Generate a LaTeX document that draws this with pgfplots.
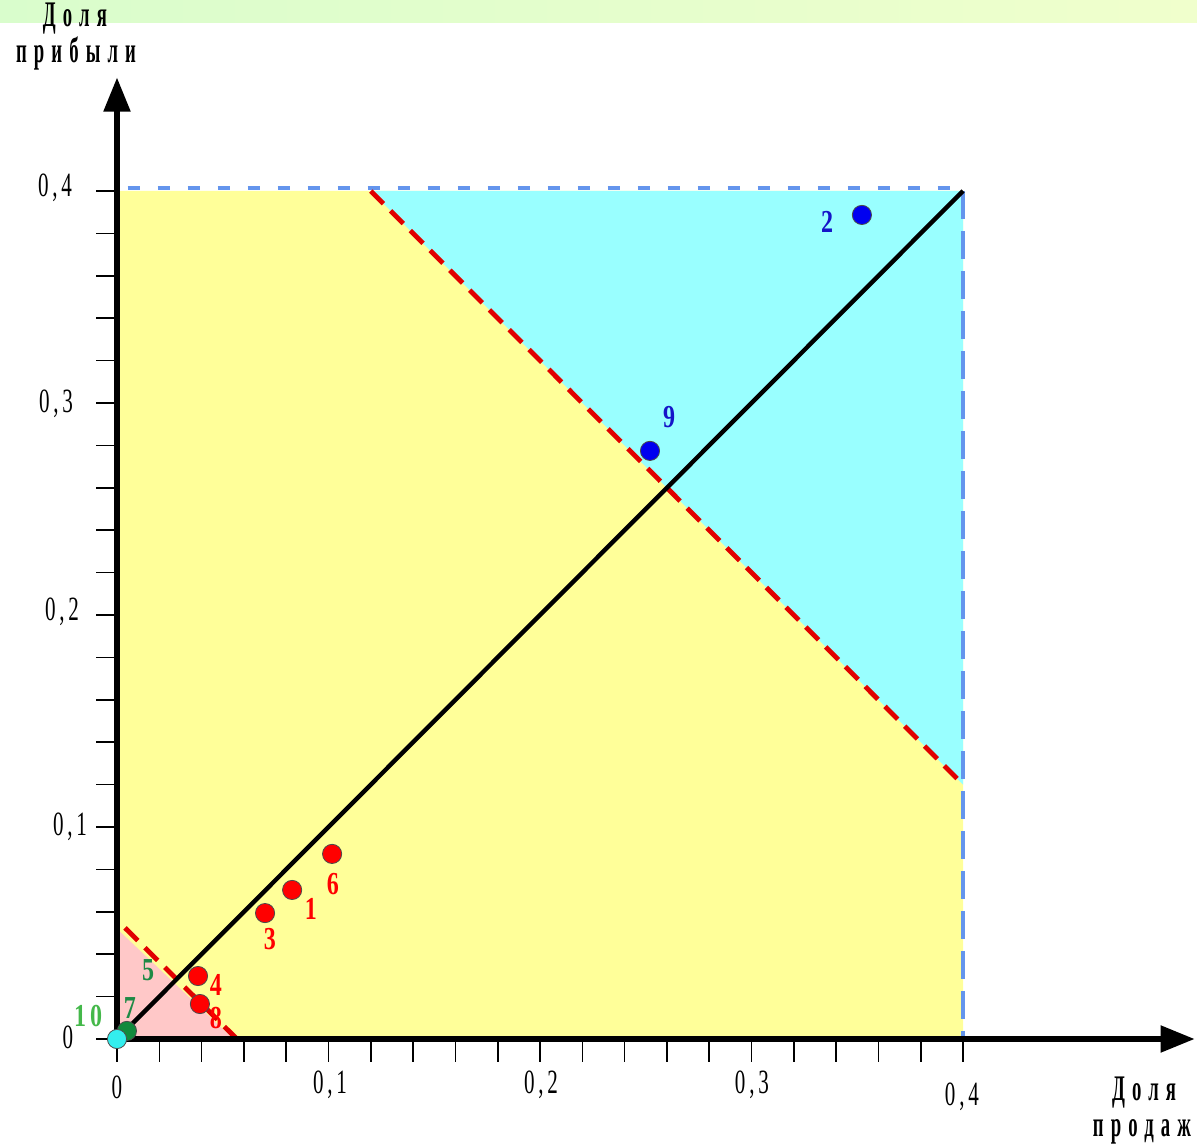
\documentclass[border=0pt]{standalone}
\usepackage{fontspec}
\setmainfont{Liberation Serif}
\newfontfamily\tickfont[LetterSpace=18]{Liberation Serif}
\newfontfamily\titlefont[LetterSpace=38]{Liberation Serif Bold}
\usepackage{graphicx}
\usepackage{pgfplots}
\pgfplotsset{compat=1.18}
\usetikzlibrary{arrows.meta}
\definecolor{zyellow}{HTML}{FFFF99}
\definecolor{zcyan}{HTML}{99FFFF}
\definecolor{zpink}{HTML}{FFC8C8}
\definecolor{zblue}{HTML}{6495ED}
\definecolor{zred}{HTML}{E00000}
\definecolor{pred}{HTML}{FF0000}
\definecolor{pblue}{HTML}{0000F0}
\definecolor{pgreen}{HTML}{118A3C}
\definecolor{pcyan}{HTML}{33EEEE}
\definecolor{lblue}{HTML}{1515C8}
\definecolor{lgreen}{HTML}{1E8A46}
\definecolor{lgreen2}{HTML}{44B84A}
\definecolor{bandl}{HTML}{D9FDCC}
\definecolor{bandr}{HTML}{F0FFCC}
\newcommand{\tl}[1]{{\tickfont\fontsize{17}{17}\selectfont\scalebox{0.62}[1]{#1}}}
\newcommand{\ttl}[1]{{\titlefont\fontsize{18}{18}\selectfont\scalebox{0.52}[1]{#1}}}
\newcommand{\pl}[1]{{\bfseries\fontsize{16}{16}\selectfont\scalebox{0.75}[1]{#1}}}
\begin{document}
\begin{tikzpicture}
\begin{axis}[
  width=598.5pt, height=572.5pt, scale only axis,
  xmin=-0.05532, xmax=0.51064, ymin=-0.05, ymax=0.49009,
  hide axis, clip=false,
]
\coordinate (bl) at (rel axis cs:0,0);
\coordinate (tr) at (rel axis cs:1,1);
% top band
\fill[left color=bandl, right color=bandr] (axis cs:-0.05532,0.49009) rectangle (axis cs:0.51064,0.4797);
% zones
\addplot[fill=zyellow, draw=none] coordinates {(0,0) (0.4,0) (0.4,0.4) (0,0.4)} \closedcycle;
\addplot[fill=zcyan, draw=none] coordinates {(0.12,0.4) (0.4,0.4) (0.4,0.12) (0.12,0.4)};
\addplot[fill=zpink, draw=none] coordinates {(0,0) (0.055,0) (0,0.052) (0,0)};
% borders
\addplot[zblue, line width=2.2pt, dash pattern=on 6pt off 9pt] coordinates {(0.005,0.4014) (0.4,0.4014)};
\addplot[zblue, line width=2.2pt, dash pattern=on 14pt off 6pt] coordinates {(0.4,0.4) (0.4,0)};
\addplot[zred, line width=2.4pt, dash pattern=on 9pt off 5pt] coordinates {(0.12,0.4) (0.4,0.12)};
\addplot[zred, line width=2.4pt, dash pattern=on 9pt off 5pt] coordinates {(0.0038,0.0524) (0.0567,0)};
\addplot[black, line width=2.2pt] coordinates {(0,0) (0.4,0.4)};
% axes
\draw[line width=2.6pt, -{Triangle[length=17pt,width=13pt]}] (axis cs:0,0) -- (axis cs:0.5095,0);
\draw[line width=2.6pt, -{Triangle[length=17pt,width=13pt]}] (axis cs:0,-0.001) -- (axis cs:0,0.4535);
\pgfplotsinvokeforeach{0,0.02,0.04,0.06,0.08,0.1,0.12,0.14,0.16,0.18,0.2,0.22,0.24,0.26,0.28,0.3,0.32,0.34,0.36,0.38,0.4}{
  \draw[line width=0.8pt] (axis cs:#1,0) -- (axis cs:#1,-0.0108);
  \draw[line width=0.8pt] (axis cs:0,#1) -- (axis cs:-0.0099,#1);
}
% points
\addplot[only marks, mark=*, mark size=4.8pt, mark options={fill=pgreen, draw=black!70, line width=0.4pt}] coordinates {(0.0047,0.0038)};
\addplot[only marks, mark=*, mark size=4.8pt, mark options={fill=pcyan, draw=black!70, line width=0.4pt}] coordinates {(0,0)};
\addplot[only marks, mark=*, mark size=4.8pt, mark options={fill=pred, draw=black!70, line width=0.4pt}] coordinates {(0.1017,0.0873) (0.0828,0.0703) (0.0700,0.0594) (0.0383,0.0297) (0.0392,0.0165)};
\addplot[only marks, mark=*, mark size=4.8pt, mark options={fill=pblue, draw=black!70, line width=0.4pt}] coordinates {(0.3522,0.3887) (0.2520,0.2774)};
% point labels
\node[lblue] at (axis cs:0.3357,0.3854) {\pl{2}};
\node[lblue] at (axis cs:0.2610,0.2934) {\pl{9}};
\node[pred] at (axis cs:0.1021,0.0731) {\pl{6}};
\node[pred] at (axis cs:0.0917,0.0613) {\pl{1}};
\node[pred] at (axis cs:0.0723,0.0472) {\pl{3}};
\node[pred] at (axis cs:0.0468,0.0255) {\pl{4}};
\node[pred] at (axis cs:0.0468,0.0099) {\pl{8}};
\node[lgreen] at (axis cs:0.0147,0.0325) {\pl{5}};
\node[lgreen] at (axis cs:0.0061,0.0146) {\pl{7}};
\node[lgreen2] at (axis cs:-0.0137,0.0108) {\pl{1\,0}};
% tick labels
\node at (axis cs:-0.0293,0.4014) {\tl{0,4}};
\node at (axis cs:-0.0288,0.2995) {\tl{0,3}};
\node at (axis cs:-0.0260,0.2014) {\tl{0,2}};
\node at (axis cs:-0.0222,0.1000) {\tl{0,1}};
\node at (axis cs:-0.0232,0.0010) {\tl{0}};
\node at (axis cs:0,-0.0226) {\tl{0}};
\node at (axis cs:0.1007,-0.0217) {\tl{0,1}};
\node at (axis cs:0.2005,-0.0217) {\tl{0,2}};
\node at (axis cs:0.3002,-0.0217) {\tl{0,3}};
\node at (axis cs:0.3995,-0.0274) {\tl{0,4}};
% axis titles
\node[inner sep=0pt] at (axis cs:-0.0199,0.4812) {\ttl{Доля}};
\node[inner sep=0pt] at (axis cs:-0.0194,0.4650) {\ttl{прибыли}};
\node[inner sep=0pt] at (axis cs:0.4856,-0.0252) {\ttl{Доля}};
\node[inner sep=0pt] at (axis cs:0.4846,-0.0440) {\ttl{продаж}};
\end{axis}
\pgfresetboundingbox
\path[use as bounding box] (bl) rectangle (tr);
\end{tikzpicture}
\end{document}
